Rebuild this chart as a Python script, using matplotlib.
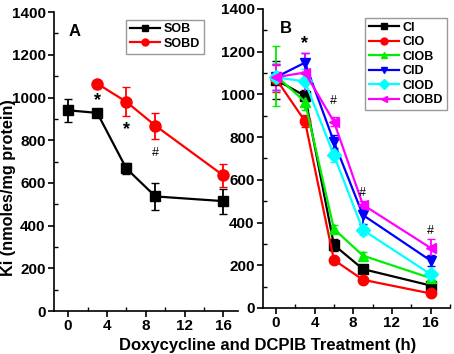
import matplotlib as mpl
mpl.use("agg")
import matplotlib.pyplot as plt
from matplotlib.ticker import MultipleLocator
from matplotlib.lines import Line2D

plt.rcParams["font.family"] = ["Liberation Sans", "DejaVu Sans"]
plt.rcParams["font.weight"] = "bold"

hours = [0, 3, 6, 9, 16]
hours_d = [3, 6, 9, 16]

# panel A
sob = [940, 928, 668, 537, 515]
sob_err = [55, 20, 25, 65, 58]
sobd = [1065, 980, 868, 635]
sobd_err = [8, 68, 60, 55]

# panel B
ci = [1068, 993, 295, 182, 105]
ci_err = [90, 25, 30, 15, 15]
cio = [1073, 875, 225, 132, 68]
cio_err = [63, 30, 15, 10, 10]
ciob = [1087, 966, 370, 245, 140]
ciob_err = [140, 40, 20, 15, 15]
cid = [1080, 1148, 778, 435, 222]
cid_err = [60, 45, 30, 40, 25]
ciod = [1080, 1060, 715, 365, 158]
ciod_err = [60, 60, 30, 25, 15]
ciobd = [1080, 1102, 872, 483, 281]
ciobd_err = [60, 90, 20, 20, 40]

series_b = [
    ("CI", ci, ci_err, "black", "s"),
    ("CIO", cio, cio_err, "red", "o"),
    ("CIOB", ciob, ciob_err, "#00ee00", "^"),
    ("CID", cid, cid_err, "blue", "v"),
    ("CIOD", ciod, ciod_err, "cyan", "D"),
    ("CIOBD", ciobd, ciobd_err, "magenta", "<"),
]

fig = plt.figure(figsize=(4.54, 3.54), dpi=100)
axA = fig.add_axes([0.119, 0.121, 0.405, 0.845])
axB = fig.add_axes([0.579, 0.130, 0.412, 0.845])


def style(ax, xlim):
    ax.set_xlim(*xlim)
    ax.set_ylim(0, 1400)
    ax.spines["top"].set_visible(False)
    ax.spines["right"].set_visible(False)
    for s in ("left", "bottom"):
        ax.spines[s].set_linewidth(1.2)
    ax.xaxis.set_major_locator(MultipleLocator(4))
    ax.xaxis.set_minor_locator(MultipleLocator(2))
    ax.yaxis.set_major_locator(MultipleLocator(200))
    ax.yaxis.set_minor_locator(MultipleLocator(100))
    ax.tick_params(which="major", direction="out", length=4, width=1.2,
                   labelsize=11, pad=2)
    ax.tick_params(which="minor", direction="in", length=3, width=1.0)
    for lab in ax.get_xticklabels() + ax.get_yticklabels():
        lab.set_fontweight("bold")


def make_legend(ax, handles, anchor):
    leg = ax.legend(handles=handles, loc="upper right", bbox_to_anchor=anchor,
                    fontsize=9, fancybox=False, edgecolor="gray",
                    handlelength=2.4, borderpad=0.3, labelspacing=0.2,
                    handletextpad=0.3, borderaxespad=0)
    leg.get_frame().set_linewidth(1.0)
    for t in leg.get_texts():
        t.set_fontweight("bold")
    return leg


# panel A
axA.errorbar(hours, sob, yerr=sob_err, color="black", marker="s", ms=7.5,
             lw=1.6, capsize=3, elinewidth=1.3)
axA.errorbar(hours_d, sobd, yerr=sobd_err, color="red", marker="o", ms=8,
             lw=1.6, capsize=3, elinewidth=1.3)
style(axA, (-1.45, 17.5))
axA.text(0.08, 0.96, "A", transform=axA.transAxes, fontsize=12, fontweight="bold", va="top")
axA.text(3, 965, "*", fontsize=13, fontweight="bold", ha="center")
axA.text(6, 828, "*", fontsize=13, fontweight="bold", ha="center")
axA.text(9, 728, "#", fontsize=9, fontweight="normal", ha="center")
make_legend(axA, [
    Line2D([], [], color="black", marker="s", ms=4.5, lw=1.6, label="SOB"),
    Line2D([], [], color="red", marker="o", ms=5, lw=1.6, label="SOBD"),
], (0.815, 0.975))

# panel B
for name, vals, err, col, mk in series_b:
    axB.errorbar(hours, vals, yerr=err, color=col, marker=mk, ms=7.5,
                 lw=1.6, capsize=3, elinewidth=1.3)
style(axB, (-1.35, 18.0))
axB.text(0.09, 0.96, "B", transform=axB.transAxes, fontsize=12, fontweight="bold", va="top")
axB.text(3, 1215, "*", fontsize=13, fontweight="bold", ha="center")
axB.text(6, 955, "#", fontsize=9, fontweight="normal", ha="center")
axB.text(9, 525, "#", fontsize=9, fontweight="normal", ha="center")
axB.text(16, 345, "#", fontsize=9, fontweight="normal", ha="center")
make_legend(axB, [Line2D([], [], color=col, marker=mk, ms=5, lw=1.6, label=name)
                  for name, vals, err, col, mk in series_b], (0.985, 0.97))

fig.text(0.019, 0.47, "Ki (nmoles/mg protein)", rotation=90, ha="center",
         va="center", fontsize=11.7, fontweight="bold")
fig.text(0.59, 0.012, "Doxycycline and DCPIB Treatment (h)", ha="center",
         fontsize=12, fontweight="bold")

fig.savefig("out.png", dpi=100)
